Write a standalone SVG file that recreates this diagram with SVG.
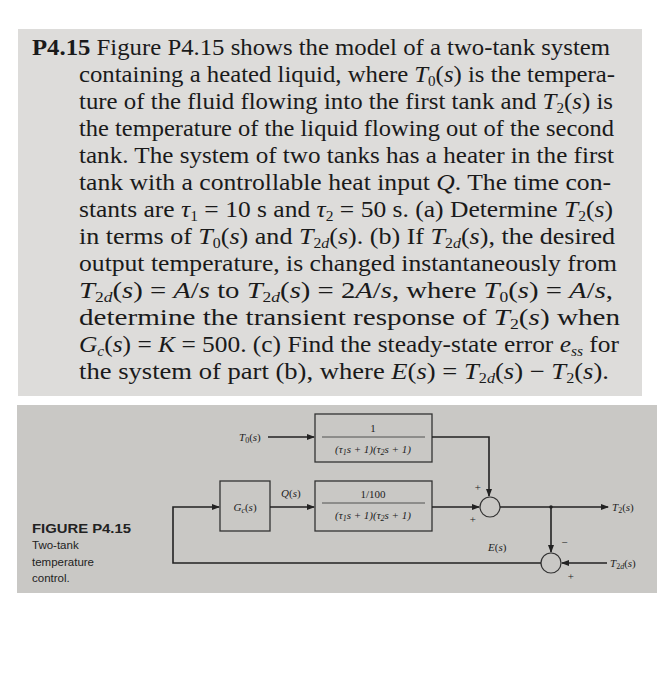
<svg xmlns="http://www.w3.org/2000/svg" width="661" height="700" viewBox="0 0 661 700">
<style>
.t{font-family:"Liberation Serif","Times New Roman",Times,serif;font-size:23px;fill:#1a1a1a}
.d{font-family:"Liberation Serif","Times New Roman",Times,serif;font-size:11px;fill:#222;font-style:italic}
.n{font-family:"Liberation Serif","Times New Roman",Times,serif;font-size:11px;fill:#222}
.s{font-family:"Liberation Sans",Arial,sans-serif;fill:#222}
.ln{stroke:#222;stroke-width:1.6;fill:none}
.bx{stroke:#333;stroke-width:1.3;fill:none}
</style>
<defs><marker id="a" markerWidth="8" markerHeight="6" refX="7" refY="3" orient="auto" markerUnits="userSpaceOnUse"><path d="M0,0L8,3L0,6z" fill="#222"/></marker></defs>
<rect width="661" height="700" fill="#fff"/>
<rect x="18" y="29" width="624" height="367" fill="#dddcda"/>
<g class="t">
<text x="32" y="55" textLength="578" lengthAdjust="spacingAndGlyphs"><tspan font-weight="bold">P4.15</tspan> Figure P4.15 shows the model of a two-tank system</text>
<text x="79" y="82" textLength="536" lengthAdjust="spacingAndGlyphs">containing a heated liquid, where <tspan font-style="italic">T</tspan><tspan font-size="14" dy="4">0</tspan><tspan dy="-4">(</tspan><tspan font-style="italic">s</tspan>) is the tempera-</text>
<text x="79" y="109" textLength="534" lengthAdjust="spacingAndGlyphs">ture of the fluid flowing into the first tank and <tspan font-style="italic">T</tspan><tspan font-size="14" dy="4">2</tspan><tspan dy="-4">(</tspan><tspan font-style="italic">s</tspan>) is</text>
<text x="79" y="136" textLength="535" lengthAdjust="spacingAndGlyphs">the temperature of the liquid flowing out of the second</text>
<text x="79" y="163" textLength="535" lengthAdjust="spacingAndGlyphs">tank. The system of two tanks has a heater in the first</text>
<text x="79" y="190" textLength="532" lengthAdjust="spacingAndGlyphs">tank with a controllable heat input <tspan font-style="italic">Q</tspan>. The time con-</text>
<text x="79" y="217" textLength="534" lengthAdjust="spacingAndGlyphs">stants are <tspan font-style="italic">τ</tspan><tspan font-size="14" dy="4">1</tspan><tspan dy="-4"> = 10 s and </tspan><tspan font-style="italic">τ</tspan><tspan font-size="14" dy="4">2</tspan><tspan dy="-4"> = 50 s. (a) Determine </tspan><tspan font-style="italic">T</tspan><tspan font-size="14" dy="4">2</tspan><tspan dy="-4">(</tspan><tspan font-style="italic">s</tspan>)</text>
<text x="79" y="244" textLength="536" lengthAdjust="spacingAndGlyphs">in terms of <tspan font-style="italic">T</tspan><tspan font-size="14" dy="4">0</tspan><tspan dy="-4">(</tspan><tspan font-style="italic">s</tspan>) and <tspan font-style="italic">T</tspan><tspan font-size="14" dy="4">2<tspan font-style="italic">d</tspan></tspan><tspan dy="-4">(</tspan><tspan font-style="italic">s</tspan>). (b) If <tspan font-style="italic">T</tspan><tspan font-size="14" dy="4">2<tspan font-style="italic">d</tspan></tspan><tspan dy="-4">(</tspan><tspan font-style="italic">s</tspan>), the desired</text>
<text x="79" y="271" textLength="538" lengthAdjust="spacingAndGlyphs">output temperature, is changed instantaneously from</text>
<text x="79" y="298" textLength="534" lengthAdjust="spacingAndGlyphs"><tspan font-style="italic">T</tspan><tspan font-size="14" dy="4">2<tspan font-style="italic">d</tspan></tspan><tspan dy="-4">(</tspan><tspan font-style="italic">s</tspan>) = <tspan font-style="italic">A</tspan>/<tspan font-style="italic">s</tspan> to <tspan font-style="italic">T</tspan><tspan font-size="14" dy="4">2<tspan font-style="italic">d</tspan></tspan><tspan dy="-4">(</tspan><tspan font-style="italic">s</tspan>) = 2<tspan font-style="italic">A</tspan>/<tspan font-style="italic">s</tspan>, where <tspan font-style="italic">T</tspan><tspan font-size="14" dy="4">0</tspan><tspan dy="-4">(</tspan><tspan font-style="italic">s</tspan>) = <tspan font-style="italic">A</tspan>/<tspan font-style="italic">s</tspan>,</text>
<text x="79" y="325" textLength="541" lengthAdjust="spacingAndGlyphs">determine  the  transient  response  of  <tspan font-style="italic">T</tspan><tspan font-size="14" dy="4">2</tspan><tspan dy="-4">(</tspan><tspan font-style="italic">s</tspan>)  when</text>
<text x="79" y="352" textLength="540" lengthAdjust="spacingAndGlyphs"><tspan font-style="italic">G</tspan><tspan font-size="14" dy="4" font-style="italic">c</tspan><tspan dy="-4">(</tspan><tspan font-style="italic">s</tspan>) = <tspan font-style="italic">K</tspan> = 500. (c) Find the steady-state error <tspan font-style="italic">e</tspan><tspan font-size="14" dy="4" font-style="italic">ss</tspan><tspan dy="-4"> for</tspan></text>
<text x="79" y="379" textLength="530" lengthAdjust="spacingAndGlyphs">the system of part (b), where <tspan font-style="italic">E</tspan>(<tspan font-style="italic">s</tspan>) = <tspan font-style="italic">T</tspan><tspan font-size="14" dy="4">2<tspan font-style="italic">d</tspan></tspan><tspan dy="-4">(</tspan><tspan font-style="italic">s</tspan>) − <tspan font-style="italic">T</tspan><tspan font-size="14" dy="4">2</tspan><tspan dy="-4">(</tspan><tspan font-style="italic">s</tspan>).</text>
</g>
<rect x="17" y="405" width="640" height="188" fill="#c9c8c5"/>
<g id="fig-caption" class="s">
<text x="32" y="533" font-size="13" font-weight="bold" textLength="99" lengthAdjust="spacingAndGlyphs">FIGURE P4.15</text>
<text x="32" y="549" font-size="11.5">Two-tank</text>
<text x="32" y="566" font-size="11.5">temperature</text>
<text x="32" y="582" font-size="11.5">control.</text>
</g>
<g id="box-top"><rect class="bx" x="315" y="414" width="117" height="48"/>
<text class="n" x="373" y="432" text-anchor="middle">1</text><line x1="322" y1="437" x2="425" y2="437" stroke="#333" stroke-width="0.8"/>
<text class="d" x="373" y="453" text-anchor="middle">(τ<tspan font-size="8" dy="2">1</tspan><tspan dy="-2">s + 1)(τ</tspan><tspan font-size="8" dy="2">2</tspan><tspan dy="-2">s + 1)</tspan></text></g>
<g id="box-bottom"><rect class="bx" x="315" y="481" width="117" height="50"/>
<text class="n" x="373" y="498" text-anchor="middle">1/100</text><line x1="322" y1="503" x2="425" y2="503" stroke="#333" stroke-width="0.8"/>
<text class="d" x="373" y="519" text-anchor="middle">(τ<tspan font-size="8" dy="2">1</tspan><tspan dy="-2">s + 1)(τ</tspan><tspan font-size="8" dy="2">2</tspan><tspan dy="-2">s + 1)</tspan></text></g>
<g id="gc"><rect class="bx" x="220" y="481" width="50" height="50"/>
<text class="d" x="245" y="511" text-anchor="middle">G<tspan font-size="8" dy="2">c</tspan><tspan dy="-2" font-style="normal">(</tspan>s<tspan font-style="normal">)</tspan></text></g>
<g id="sum1"><circle cx="490" cy="507" r="10" fill="none" stroke="#333" stroke-width="1.2"/></g>
<g id="sum2"><circle cx="551" cy="563" r="10" fill="none" stroke="#333" stroke-width="1.2"/></g>
<g id="connectors" class="ln">
<line x1="268" y1="437" x2="314" y2="437" marker-end="url(#a)"/>
<polyline points="432,437 489,437 489,496" marker-end="url(#a)"/>
<line x1="270" y1="507" x2="314" y2="507" marker-end="url(#a)"/>
<line x1="432" y1="507" x2="479" y2="507" marker-end="url(#a)"/>
<line x1="500" y1="507" x2="608" y2="507" marker-end="url(#a)"/>
<line x1="551" y1="507" x2="551" y2="552" marker-end="url(#a)"/>
<line x1="607" y1="563" x2="562" y2="563" marker-end="url(#a)"/>
<polyline points="541,563 173,563 173,507 219,507" marker-end="url(#a)"/>
</g>
<circle cx="551" cy="507" r="1.8" fill="#222"/>
<g id="labels" class="d">
<text x="239" y="441">T<tspan font-size="8" dy="2" font-style="normal">0</tspan><tspan dy="-2" font-style="normal">(</tspan>s<tspan font-style="normal">)</tspan></text>
<text x="281" y="497">Q<tspan font-style="normal">(</tspan>s<tspan font-style="normal">)</tspan></text>
<text x="612" y="511">T<tspan font-size="8" dy="2" font-style="normal">2</tspan><tspan dy="-2" font-style="normal">(</tspan>s<tspan font-style="normal">)</tspan></text>
<text x="610" y="567">T<tspan font-size="8" dy="2" font-style="normal">2</tspan><tspan font-size="8">d</tspan><tspan dy="-2" font-style="normal">(</tspan>s<tspan font-style="normal">)</tspan></text>
<text x="488" y="551">E<tspan font-style="normal">(</tspan>s<tspan font-style="normal">)</tspan></text>
<text class="n" x="474" y="491">+</text>
<text class="n" x="469" y="523">+</text>
<text class="n" x="561" y="546">−</text>
<text class="n" x="567" y="580">+</text>
</g>
</svg>
